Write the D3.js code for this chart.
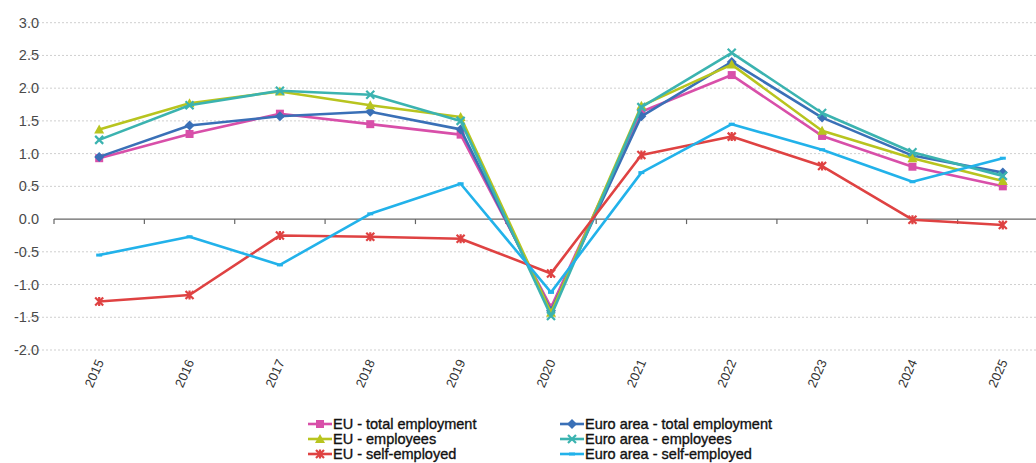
<!DOCTYPE html>
<html>
<head>
<meta charset="utf-8">
<script src="https://cdn.jsdelivr.net/npm/d3@7"></script>
<style>
  body { margin: 0; background: #fff; }
  svg { display: block; font-family: "Liberation Sans", Arial, sans-serif; }
  .grid line { stroke: #cfcfcf; stroke-dasharray: 2 2; }
  .ytick { fill: #4a4a4a; font-size: 14.5px; }
  .xtick { fill: #333; font-size: 13px; }
  .leg { fill: #111; font-size: 14.5px; stroke: #111; stroke-width: 0.35px; }
</style>
</head>
<body>
<svg id="chart" width="1036" height="463"></svg>
<script>
// 데이터
const years = ['2015', '2016', '2017', '2018', '2019', '2020', '2021', '2022', '2023', '2024', '2025'];
const yTicks = [3.0, 2.5, 2.0, 1.5, 1.0, 0.5, 0.0, -0.5, -1.0, -1.5, -2.0];

const euTotal      = [0.93, 1.30, 1.61, 1.45, 1.29, -1.35, 1.64, 2.20, 1.27, 0.80, 0.50];
const euroTotal    = [0.95, 1.43, 1.57, 1.64, 1.37, -1.40, 1.57, 2.40, 1.55, 0.97, 0.71];
const euEmp        = [1.37, 1.77, 1.95, 1.74, 1.56, -1.43, 1.73, 2.36, 1.35, 0.93, 0.58];
const euroEmp      = [1.21, 1.74, 1.96, 1.90, 1.50, -1.48, 1.71, 2.54, 1.62, 1.02, 0.66];
const euSelf       = [-1.26, -1.16, -0.25, -0.27, -0.30, -0.83, 0.98, 1.26, 0.81, -0.01, -0.09];
const euroSelf     = [-0.55, -0.27, -0.70, 0.08, 0.54, -1.12, 0.71, 1.45, 1.06, 0.57, 0.93];

const series = [
  { name: 'EU - total employment', values: euTotal, color: '#d84fa9', marker: 'square' },
  { name: 'Euro area - total employment', values: euroTotal, color: '#3a70b7', marker: 'diamond' },
  { name: 'EU - employees', values: euEmp, color: '#b8c41f', marker: 'triangle' },
  { name: 'Euro area - employees', values: euroEmp, color: '#3bb3b0', marker: 'x' },
  { name: 'EU - self-employed', values: euSelf, color: '#df4242', marker: 'star' },
  { name: 'Euro area - self-employed', values: euroSelf, color: '#22b2ea', marker: 'dash' }
];

const svg = d3.select('#chart');
const PLOT_LEFT = 54, PLOT_RIGHT = 1048;
const PLOT_TOP = 22.7, PLOT_BOTTOM = 350;

const x = d3.scaleBand().domain(years).range([PLOT_LEFT, PLOT_RIGHT]);
const y = d3.scaleLinear().domain([-2, 3]).range([PLOT_BOTTOM, PLOT_TOP]);
const cx = (d) => x(d) + x.bandwidth() / 2;

// 그리드
svg.append('g').attr('class', 'grid')
  .selectAll('line').data(yTicks.filter((t) => t !== 0)).join('line')
  .attr('x1', 22).attr('x2', 1036)
  .attr('y1', (t) => y(t)).attr('y2', (t) => y(t));

// y축 레이블
svg.append('g').selectAll('text').data(yTicks).join('text')
  .attr('class', 'ytick')
  .attr('x', 39).attr('y', (t) => y(t) + 5)
  .attr('text-anchor', 'end')
  .text((t) => t.toFixed(1));

// 0 축
svg.append('line')
  .attr('x1', PLOT_LEFT).attr('x2', 1036)
  .attr('y1', y(0)).attr('y2', y(0))
  .attr('stroke', '#666').attr('stroke-width', 1.2);

svg.append('g').selectAll('line').data(years).join('line')
  .attr('x1', (d) => x(d)).attr('x2', (d) => x(d))
  .attr('y1', y(0)).attr('y2', y(0) + 5)
  .attr('stroke', '#666').attr('stroke-width', 1.2);

// x축 레이블
svg.append('g').selectAll('text').data(years).join('text')
  .attr('class', 'xtick')
  .attr('text-anchor', 'end')
  .attr('transform', (d) => `translate(${cx(d) + 5},${362}) rotate(-66)`)
  .text((d) => d);

function drawMarker(g, type, color) {
  if (type === 'square') {
    g.append('rect').attr('x', -4).attr('y', -4).attr('width', 8).attr('height', 8).attr('fill', color);
  } else if (type === 'diamond') {
    g.append('path').attr('d', 'M0,-5L5,0L0,5L-5,0Z').attr('fill', color);
  } else if (type === 'triangle') {
    g.append('path').attr('d', 'M0,-5L5,4L-5,4Z').attr('fill', color);
  } else if (type === 'x') {
    g.append('path').attr('d', 'M-4,-4L4,4M-4,4L4,-4').attr('stroke', color).attr('stroke-width', 2.2);
  } else if (type === 'star') {
    g.append('path').attr('d', 'M-4,-4L4,4M-4,4L4,-4M0,-4.5L0,4.5').attr('stroke', color).attr('stroke-width', 2.2);
  } else if (type === 'dash') {
    g.append('path').attr('d', 'M-3,0L3,0').attr('stroke', color).attr('stroke-width', 3);
  }
}

const line = d3.line().x((d, i) => cx(years[i])).y((d) => y(d));

series.forEach((s) => {
  svg.append('path')
    .datum(s.values)
    .attr('fill', 'none')
    .attr('stroke', s.color)
    .attr('stroke-width', 2.6)
    .attr('stroke-linejoin', 'round')
    .attr('d', line);
  s.values.forEach((v, i) => {
    const g = svg.append('g').attr('transform', `translate(${cx(years[i])},${y(v)})`);
    drawMarker(g, s.marker, s.color);
  });
});

// 범례
const legendPos = [
  { x: 308, y: 424 }, { x: 560, y: 424 },
  { x: 308, y: 439 }, { x: 560, y: 439 },
  { x: 308, y: 454 }, { x: 560, y: 454 }
];
series.forEach((s, i) => {
  const p = legendPos[i];
  svg.append('line')
    .attr('x1', p.x).attr('x2', p.x + 24)
    .attr('y1', p.y).attr('y2', p.y)
    .attr('stroke', s.color).attr('stroke-width', 2.6);
  const g = svg.append('g').attr('transform', `translate(${p.x + 12},${p.y})`);
  drawMarker(g, s.marker, s.color);
  svg.append('text')
    .attr('class', 'leg')
    .attr('x', p.x + 25).attr('y', p.y + 5)
    .text(s.name);
});
</script>
</body>
</html>
